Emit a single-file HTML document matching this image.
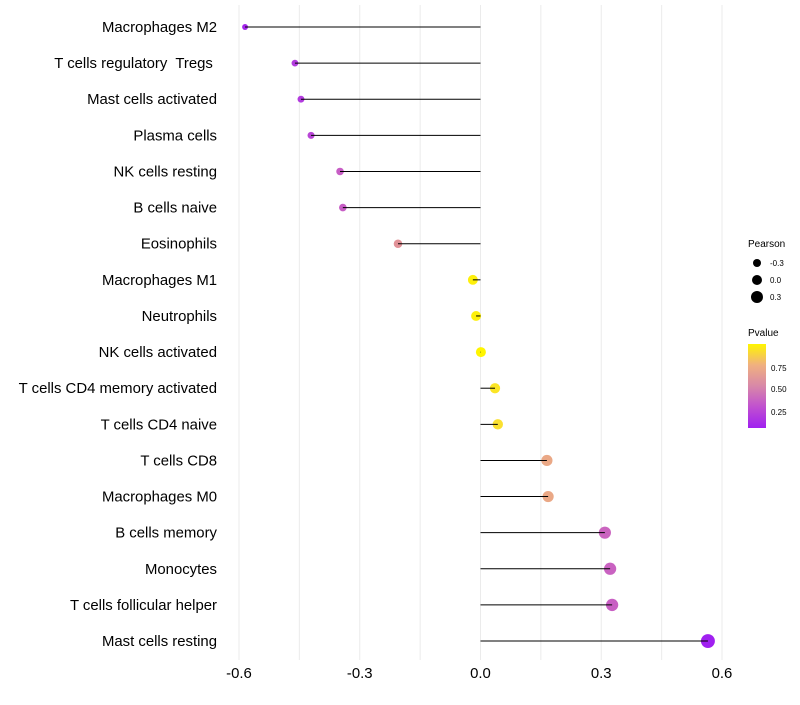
<!DOCTYPE html>
<html><head><meta charset="utf-8"><style>
body{margin:0;background:#fff;font-family:"Liberation Sans",sans-serif}
</style></head><body>
<svg id="chart" width="800" height="700" xmlns="http://www.w3.org/2000/svg" font-family="Liberation Sans, sans-serif">
<g id="grid"></g>
<g id="marks"></g>
<g id="ylabels"></g>
<g id="xlabels"></g>
<g>
<text x="748" y="247" font-size="10">Pearson</text>
<circle cx="757" cy="263" r="4" fill="#000"/><text x="770" y="266" font-size="8">-0.3</text>
<circle cx="757" cy="280" r="5" fill="#000"/><text x="770" y="283" font-size="8">0.0</text>
<circle cx="757" cy="297" r="6" fill="#000"/><text x="770" y="300" font-size="8">0.3</text>
</g>
<g>
<text x="748" y="336" font-size="10">Pvalue</text>
<defs><linearGradient id="pg" x1="0" y1="1" x2="0" y2="0">
<stop offset="0" stop-color="#A020F0"/><stop offset="0.25" stop-color="#C050D0"/><stop offset="0.5" stop-color="#D888A8"/><stop offset="0.75" stop-color="#F0B080"/><stop offset="1" stop-color="#FFF500"/>
</linearGradient></defs>
<rect x="748" y="344" width="18" height="84" fill="url(#pg)"/>
<text x="771" y="371" font-size="8">0.75</text>
<text x="771" y="392" font-size="8">0.50</text>
<text x="771" y="415" font-size="8">0.25</text>
</g>
</svg>
<script>
const cells = ["Macrophages M2","T cells regulatory  Tregs ","Mast cells activated","Plasma cells","NK cells resting","B cells naive","Eosinophils","Macrophages M1","Neutrophils","NK cells activated","T cells CD4 memory activated","T cells CD4 naive","T cells CD8","Macrophages M0","B cells memory","Monocytes","T cells follicular helper","Mast cells resting"];
const pearson = [-0.585,-0.461,-0.446,-0.421,-0.349,-0.342,-0.205,-0.019,-0.011,0.001,0.036,0.043,0.165,0.168,0.309,0.322,0.327,0.565];
const pvalue = [0.1,0.2,0.2,0.25,0.35,0.35,0.55,0.95,0.95,0.99,0.9,0.88,0.62,0.62,0.38,0.37,0.36,0.07];
const xTicks = [-0.6,-0.3,0,0.3,0.6];
const xTickLabels = ["-0.6","-0.3","0.0","0.3","0.6"];
const NS="http://www.w3.org/2000/svg";
const x = v => 480.5 + v*402.5;
const y = i => 27 + i*36.12;
const r = v => 5 + 3.5*v;
const stops=[[0.07,[160,32,240]],[0.3,[192,80,208]],[0.5,[218,130,165]],[0.62,[234,168,134]],[0.8,[245,205,90]],[0.97,[255,245,0]]];
function col(p){
  if(p<=stops[0][0]) return `rgb(${stops[0][1]})`;
  for(let k=1;k<stops.length;k++){ if(p<=stops[k][0]){const a=stops[k-1],b=stops[k],t=(p-a[0])/(b[0]-a[0]);return `rgb(${a[1].map((c,j)=>Math.round(c+(b[1][j]-c)*t))})`;}}
  return `rgb(${stops[stops.length-1][1]})`;
}
function mk(tag,attrs,parent){const e=document.createElementNS(NS,tag);for(const k in attrs)e.setAttribute(k,attrs[k]);document.getElementById(parent).appendChild(e);return e;}
for(let v=-0.6;v<=0.601;v+=0.15){
  const g=mk('line',{x1:x(v),x2:x(v),y1:5,y2:660,stroke:'#ebebeb','stroke-width':1},'grid');
  
  
}
xTicks.forEach((t,i)=>{
  const e=mk('text',{x:x(t),y:678,'font-size':14.9,'text-anchor':'middle',fill:'#000'},'xlabels');
  e.textContent=xTickLabels[i];
  
  
});
cells.forEach((c,i)=>{
  const t=mk('text',{x:217,y:y(i)+5,'font-size':14.9,'text-anchor':'end',fill:'#000',style:'white-space:pre'},'ylabels');
  t.textContent=c;
  
  
  const d=mk('circle',{cx:x(pearson[i]),cy:y(i),r:r(pearson[i]),fill:col(pvalue[i])},'marks');
  
  
  const l=mk('line',{x1:x(0),x2:x(pearson[i]),y1:y(i),y2:y(i),stroke:'#000','stroke-width':1},'marks');
  
  
});
</script>
</body></html>
